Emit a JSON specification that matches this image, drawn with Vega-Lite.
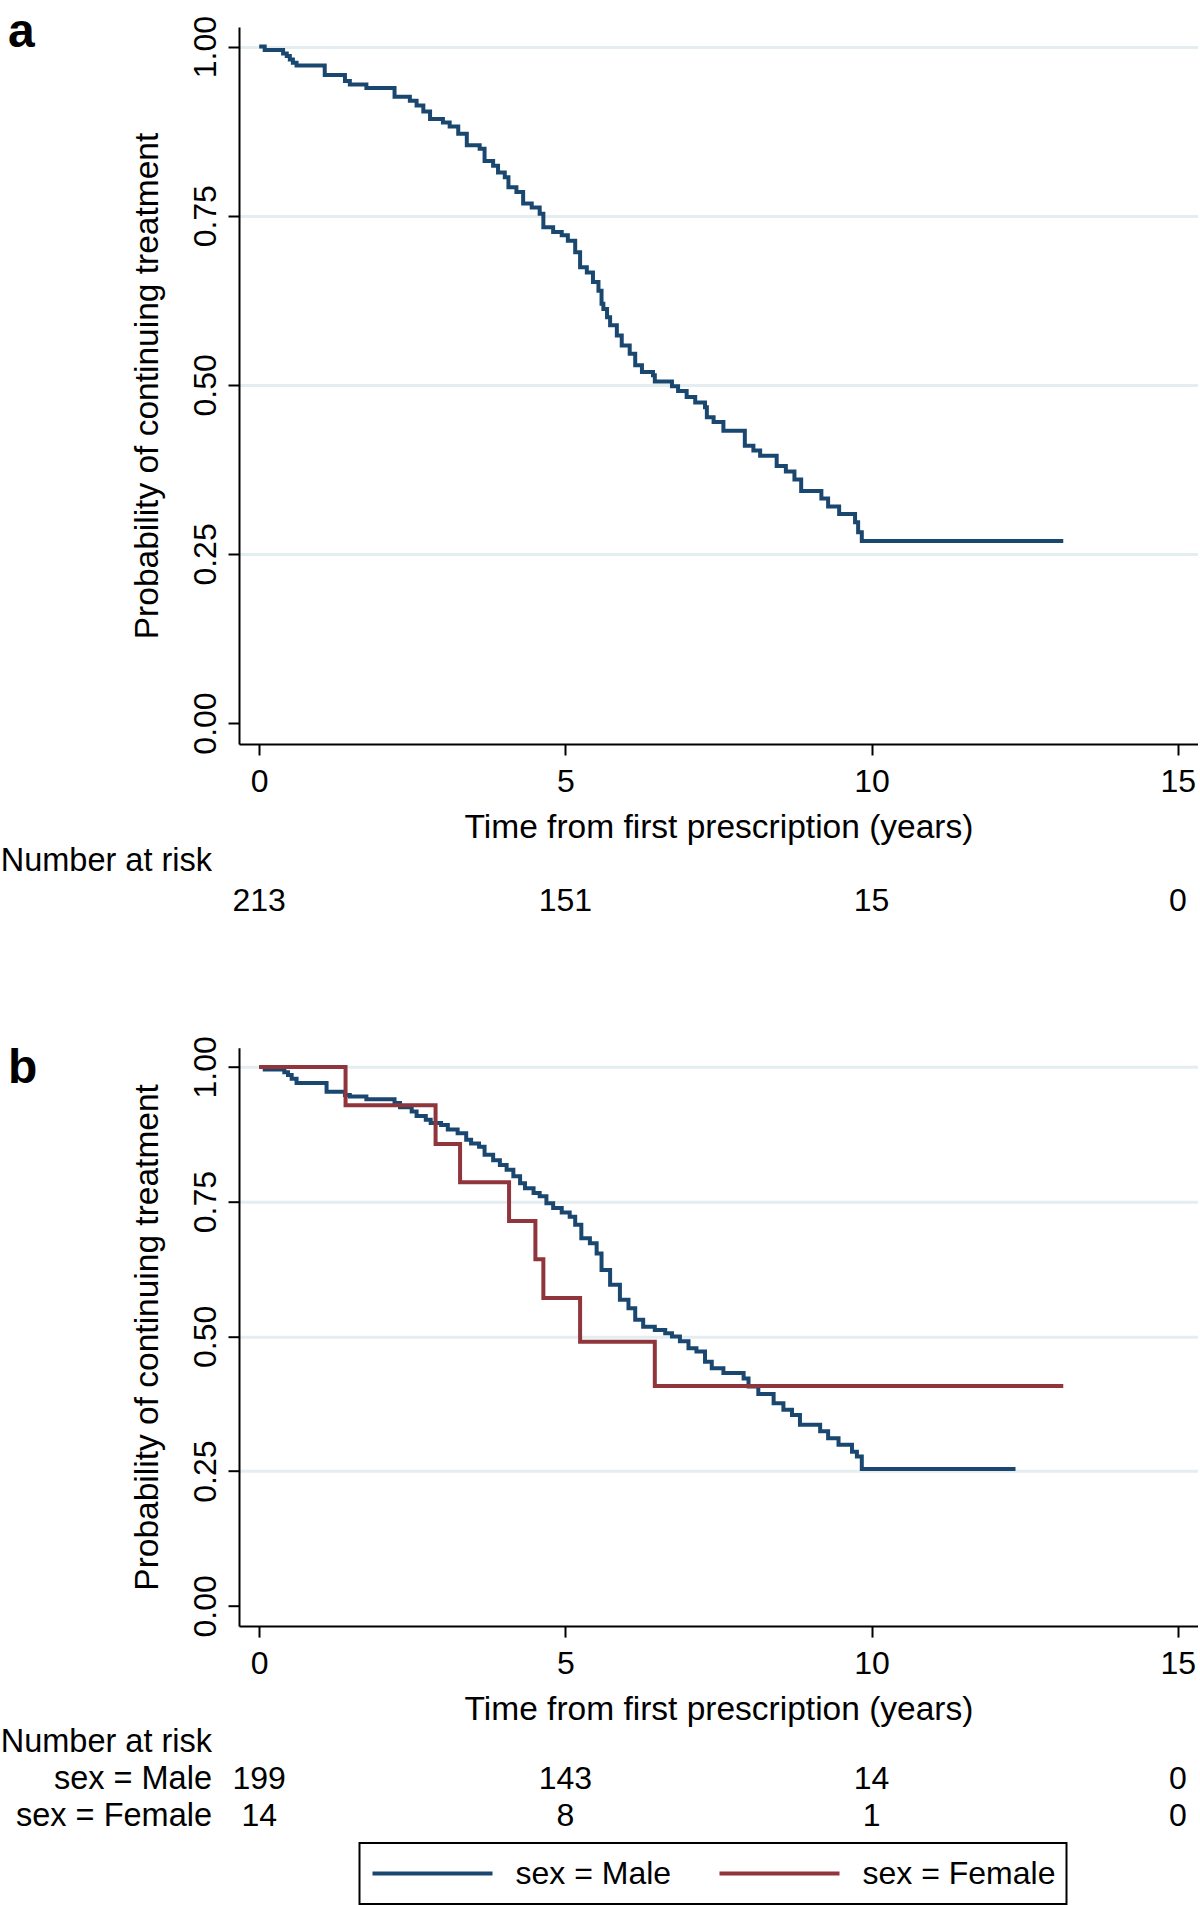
{
  "$schema": "https://vega.github.io/schema/vega-lite/v6.json",
  "padding": {"left": 0, "top": 9, "right": 0, "bottom": 0},
  "background": "white",
  "config": {
    "font": "Liberation Sans",
    "view": {"stroke": null},
    "axis": {
      "labelFont": "Liberation Sans", "titleFont": "Liberation Sans",
      "labelColor": "black", "titleColor": "black", "titleFontWeight": "normal",
      "labelFontSize": 32, "titleFontSize": 33.5,
      "domainColor": "black", "domainWidth": 2,
      "tickColor": "black", "tickWidth": 2, "tickSize": 11,
      "labelPadding": 13, "labelFlush": false, "labelOverlap": false, "labelLimit": 500,
      "gridColor": "#e4edf0", "gridWidth": 3
    },
    "legend": {"strokeWidth": 2},
    "title": {"font": "Liberation Sans", "fontWeight": "bold", "fontSize": 48, "color": "black", "anchor": "start", "frame": "group", "baseline": "alphabetic"}
  },
  "datasets": {
    "kmA": [
      {"t": 0, "s": 1.0}, {"t": 0.09, "s": 0.995}, {"t": 0.39, "s": 0.99}, {"t": 0.45, "s": 0.986}, {"t": 0.5, "s": 0.981}, {"t": 0.55, "s": 0.976}, {"t": 0.61, "s": 0.972},
      {"t": 1.07, "s": 0.958}, {"t": 1.4, "s": 0.949}, {"t": 1.48, "s": 0.944}, {"t": 1.75, "s": 0.939}, {"t": 2.21, "s": 0.926}, {"t": 2.46, "s": 0.92},
      {"t": 2.57, "s": 0.913}, {"t": 2.68, "s": 0.904}, {"t": 2.79, "s": 0.893}, {"t": 3.0, "s": 0.888}, {"t": 3.11, "s": 0.882}, {"t": 3.25, "s": 0.871},
      {"t": 3.39, "s": 0.854}, {"t": 3.6, "s": 0.849}, {"t": 3.68, "s": 0.831}, {"t": 3.82, "s": 0.824}, {"t": 3.9, "s": 0.814}, {"t": 4.01, "s": 0.807},
      {"t": 4.07, "s": 0.792}, {"t": 4.2, "s": 0.785}, {"t": 4.31, "s": 0.768}, {"t": 4.45, "s": 0.762}, {"t": 4.58, "s": 0.753}, {"t": 4.64, "s": 0.733},
      {"t": 4.8, "s": 0.726}, {"t": 4.94, "s": 0.721}, {"t": 5.04, "s": 0.713}, {"t": 5.16, "s": 0.696}, {"t": 5.24, "s": 0.674}, {"t": 5.35, "s": 0.666},
      {"t": 5.45, "s": 0.652}, {"t": 5.54, "s": 0.639}, {"t": 5.59, "s": 0.62}, {"t": 5.62, "s": 0.612}, {"t": 5.68, "s": 0.6}, {"t": 5.73, "s": 0.588},
      {"t": 5.84, "s": 0.573}, {"t": 5.92, "s": 0.558}, {"t": 6.05, "s": 0.546}, {"t": 6.14, "s": 0.529}, {"t": 6.25, "s": 0.519}, {"t": 6.43, "s": 0.514},
      {"t": 6.46, "s": 0.505}, {"t": 6.74, "s": 0.498}, {"t": 6.84, "s": 0.491}, {"t": 6.98, "s": 0.482}, {"t": 7.12, "s": 0.474}, {"t": 7.28, "s": 0.467},
      {"t": 7.31, "s": 0.452}, {"t": 7.42, "s": 0.445}, {"t": 7.58, "s": 0.432}, {"t": 7.93, "s": 0.41}, {"t": 8.07, "s": 0.403}, {"t": 8.18, "s": 0.395},
      {"t": 8.45, "s": 0.38}, {"t": 8.6, "s": 0.372}, {"t": 8.74, "s": 0.36}, {"t": 8.85, "s": 0.343}, {"t": 9.18, "s": 0.332}, {"t": 9.29, "s": 0.32},
      {"t": 9.47, "s": 0.309}, {"t": 9.73, "s": 0.297}, {"t": 9.78, "s": 0.282}, {"t": 9.84, "s": 0.269}, {"t": 13.13, "s": 0.269}
    ],
    "kmB": [
      {"sex": "Male", "t": 0, "s": 1.0}, {"sex": "Male", "t": 0.09, "s": 0.995}, {"sex": "Male", "t": 0.41, "s": 0.99}, {"sex": "Male", "t": 0.47, "s": 0.985},
      {"sex": "Male", "t": 0.53, "s": 0.978}, {"sex": "Male", "t": 0.61, "s": 0.97}, {"sex": "Male", "t": 1.1, "s": 0.954}, {"sex": "Male", "t": 1.4, "s": 0.948},
      {"sex": "Male", "t": 1.48, "s": 0.945}, {"sex": "Male", "t": 1.75, "s": 0.94}, {"sex": "Male", "t": 2.21, "s": 0.933}, {"sex": "Male", "t": 2.3, "s": 0.925},
      {"sex": "Male", "t": 2.49, "s": 0.917}, {"sex": "Male", "t": 2.57, "s": 0.909}, {"sex": "Male", "t": 2.72, "s": 0.902}, {"sex": "Male", "t": 2.8, "s": 0.896},
      {"sex": "Male", "t": 2.97, "s": 0.892}, {"sex": "Male", "t": 3.08, "s": 0.884}, {"sex": "Male", "t": 3.24, "s": 0.877}, {"sex": "Male", "t": 3.38, "s": 0.865},
      {"sex": "Male", "t": 3.46, "s": 0.858}, {"sex": "Male", "t": 3.59, "s": 0.852}, {"sex": "Male", "t": 3.68, "s": 0.837}, {"sex": "Male", "t": 3.82, "s": 0.827},
      {"sex": "Male", "t": 3.93, "s": 0.818}, {"sex": "Male", "t": 4.04, "s": 0.809}, {"sex": "Male", "t": 4.15, "s": 0.797}, {"sex": "Male", "t": 4.26, "s": 0.784},
      {"sex": "Male", "t": 4.34, "s": 0.775}, {"sex": "Male", "t": 4.48, "s": 0.766}, {"sex": "Male", "t": 4.58, "s": 0.76}, {"sex": "Male", "t": 4.69, "s": 0.747},
      {"sex": "Male", "t": 4.8, "s": 0.738}, {"sex": "Male", "t": 4.94, "s": 0.73}, {"sex": "Male", "t": 5.07, "s": 0.722}, {"sex": "Male", "t": 5.16, "s": 0.707},
      {"sex": "Male", "t": 5.26, "s": 0.682}, {"sex": "Male", "t": 5.4, "s": 0.673}, {"sex": "Male", "t": 5.51, "s": 0.654}, {"sex": "Male", "t": 5.59, "s": 0.623},
      {"sex": "Male", "t": 5.73, "s": 0.596}, {"sex": "Male", "t": 5.89, "s": 0.568}, {"sex": "Male", "t": 6.03, "s": 0.552}, {"sex": "Male", "t": 6.14, "s": 0.531},
      {"sex": "Male", "t": 6.27, "s": 0.518}, {"sex": "Male", "t": 6.46, "s": 0.512}, {"sex": "Male", "t": 6.63, "s": 0.506}, {"sex": "Male", "t": 6.74, "s": 0.5},
      {"sex": "Male", "t": 6.87, "s": 0.491}, {"sex": "Male", "t": 7.01, "s": 0.478}, {"sex": "Male", "t": 7.14, "s": 0.472}, {"sex": "Male", "t": 7.28, "s": 0.453},
      {"sex": "Male", "t": 7.39, "s": 0.441}, {"sex": "Male", "t": 7.58, "s": 0.432}, {"sex": "Male", "t": 7.91, "s": 0.422}, {"sex": "Male", "t": 7.99, "s": 0.407},
      {"sex": "Male", "t": 8.15, "s": 0.393}, {"sex": "Male", "t": 8.4, "s": 0.376}, {"sex": "Male", "t": 8.56, "s": 0.364}, {"sex": "Male", "t": 8.7, "s": 0.354},
      {"sex": "Male", "t": 8.83, "s": 0.336}, {"sex": "Male", "t": 9.16, "s": 0.324}, {"sex": "Male", "t": 9.29, "s": 0.311}, {"sex": "Male", "t": 9.46, "s": 0.299},
      {"sex": "Male", "t": 9.68, "s": 0.286}, {"sex": "Male", "t": 9.76, "s": 0.277}, {"sex": "Male", "t": 9.84, "s": 0.254}, {"sex": "Male", "t": 12.35, "s": 0.254},
      {"sex": "Female", "t": 0, "s": 1.0}, {"sex": "Female", "t": 1.41, "s": 0.929}, {"sex": "Female", "t": 2.88, "s": 0.857}, {"sex": "Female", "t": 3.28, "s": 0.786},
      {"sex": "Female", "t": 4.08, "s": 0.714}, {"sex": "Female", "t": 4.51, "s": 0.643}, {"sex": "Female", "t": 4.64, "s": 0.571}, {"sex": "Female", "t": 5.24, "s": 0.49},
      {"sex": "Female", "t": 6.46, "s": 0.408}, {"sex": "Female", "t": 13.13, "s": 0.408}
    ],
    "riskA": [
      {"row": " ", "t": 0, "n": "213"}, {"row": " ", "t": 5, "n": "151"}, {"row": " ", "t": 10, "n": "15"}, {"row": " ", "t": 15, "n": "0"}
    ],
    "riskB": [
      {"row": "sex = Male", "t": 0, "n": "199"}, {"row": "sex = Male", "t": 5, "n": "143"}, {"row": "sex = Male", "t": 10, "n": "14"}, {"row": "sex = Male", "t": 15, "n": "0"},
      {"row": "sex = Female", "t": 0, "n": "14"}, {"row": "sex = Female", "t": 5, "n": "8"}, {"row": "sex = Female", "t": 10, "n": "1"}, {"row": "sex = Female", "t": 15, "n": "0"}
    ]
  },
  "spacing": 117.7,
  "vconcat": [
    {
      "spacing": 0,
      "vconcat": [
        {
          "title": {"text": "a", "dx": -231, "offset": -41.6},
          "width": 959,
          "height": 717,
          "data": {"name": "kmA"},
          "mark": {"type": "line", "interpolate": "step-after", "color": "#1a476f", "strokeWidth": 4},
          "encoding": {
            "x": {"field": "t", "type": "quantitative", "scale": {"domain": [-0.33, 15.33], "nice": false, "zero": false},
                  "axis": {"values": [0, 5, 10, 15], "title": "Time from first prescription (years)", "labelPadding": 11, "titlePadding": 14.5, "grid": false}},
            "y": {"field": "s", "type": "quantitative", "scale": {"domain": [-0.031, 1.029], "nice": false, "zero": false},
                  "axis": {"values": [0, 0.25, 0.5, 0.75, 1], "format": ".2f", "title": "Probability of continuing treatment",
                           "labelAngle": 270, "labelAlign": "center", "labelBaseline": "alphabetic", "titlePadding": 25,
                           "grid": true, "gridOpacity": {"condition": {"test": "datum.value === 0", "value": 0}, "value": 1}}}
          }
        },
        {
          "width": 959,
          "height": 72.9,
          "data": {"name": "riskA"},
          "mark": {"type": "text", "fontSize": 32, "font": "Liberation Sans", "baseline": "middle", "align": "center", "color": "black"},
          "encoding": {
            "x": {"field": "t", "type": "quantitative", "scale": {"domain": [-0.33, 15.33], "nice": false, "zero": false}, "axis": null},
            "y": {"field": "row", "type": "nominal", "scale": {"type": "point", "domain": ["Number at risk", " "], "padding": 0.4},
                  "axis": {"title": null, "domain": false, "ticks": false, "tickSize": 0, "grid": false, "labelPadding": 27.5, "labelAlign": "right", "labelBaseline": "middle", "labelFontSize": 32.5, "labelAngle": 0}},
            "text": {"field": "n", "type": "nominal"}
          }
        }
      ]
    },
    {
      "spacing": -6.5,
      "vconcat": [
        {
          "title": {"text": "b", "dx": -231, "offset": -57},
          "width": 959,
          "height": 578.4,
          "data": {"name": "kmB"},
          "mark": {"type": "line", "interpolate": "step-after", "strokeWidth": 4},
          "encoding": {
            "x": {"field": "t", "type": "quantitative", "scale": {"domain": [-0.33, 15.33], "nice": false, "zero": false},
                  "axis": {"values": [0, 5, 10, 15], "title": "Time from first prescription (years)", "labelPadding": 11, "titlePadding": 14.5, "grid": false}},
            "y": {"field": "s", "type": "quantitative", "scale": {"domain": [-0.0375, 1.0356], "nice": false, "zero": false},
                  "axis": {"values": [0, 0.25, 0.5, 0.75, 1], "format": ".2f", "title": "Probability of continuing treatment",
                           "labelAngle": 270, "labelAlign": "center", "labelBaseline": "alphabetic", "titlePadding": 25,
                           "grid": true, "gridOpacity": {"condition": {"test": "datum.value === 0", "value": 0}, "value": 1}}},
            "color": {"field": "sex", "type": "nominal", "scale": {"domain": ["Male", "Female"], "range": ["#1a476f", "#90353b"]},
                      "legend": {"title": null, "orient": "none", "legendX": 120.5, "legendY": 1816, "direction": "horizontal",
                                 "strokeColor": "black", "padding": 11, "symbolType": "stroke", "symbolSize": 14400, "symbolStrokeWidth": 4,
                                 "clipHeight": 39, "labelFontSize": 32, "labelFont": "Liberation Sans", "labelColor": "black", "labelLimit": 400,
                                 "labelOffset": 21, "columnPadding": 46, "labelExpr": "'sex = ' + datum.label"}}
          }
        },
        {
          "width": 959,
          "height": 103.6,
          "data": {"name": "riskB"},
          "mark": {"type": "text", "fontSize": 32, "font": "Liberation Sans", "baseline": "middle", "align": "center", "color": "black"},
          "encoding": {
            "x": {"field": "t", "type": "quantitative", "scale": {"domain": [-0.33, 15.33], "nice": false, "zero": false}, "axis": null},
            "y": {"field": "row", "type": "nominal", "scale": {"type": "point", "domain": ["Number at risk", "sex = Male", "sex = Female"], "padding": 0.4},
                  "axis": {"title": null, "domain": false, "ticks": false, "tickSize": 0, "grid": false, "labelPadding": 27.5, "labelAlign": "right", "labelBaseline": "middle", "labelFontSize": 32.5, "labelAngle": 0}},
            "text": {"field": "n", "type": "nominal"}
          }
        }
      ]
    }
  ]
}
